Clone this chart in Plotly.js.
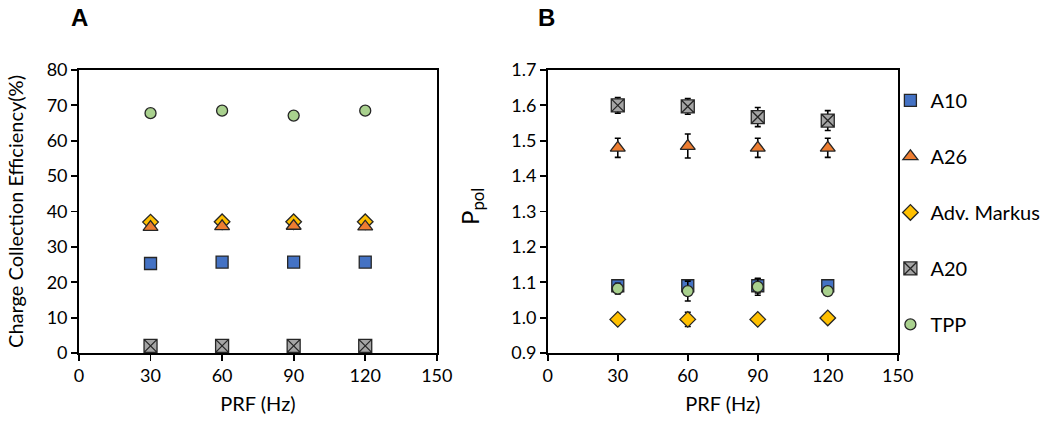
<!DOCTYPE html>
<html><head><meta charset="utf-8">
<script src="https://cdn.plot.ly/plotly-3.0.1.min.js"></script>
<style>html,body{margin:0;padding:0;background:#fff}#chart{width:1050px;height:426px}</style>
</head><body><div id="chart"></div>
<script>
var prf = [30, 60, 90, 120];
var seriesNames = ['A10', 'A26', 'Adv. Markus', 'A20', 'TPP'];

// Panel A: Charge Collection Efficiency (%)
var cceA10 = [25.3, 25.7, 25.7, 25.7];
var cceA26 = [35.6, 35.8, 35.9, 35.7];
var cceMarkus = [37.0, 37.1, 37.1, 37.1];
var cceA20 = [2.0, 2.0, 2.0, 2.0];
var cceTPP = [67.8, 68.5, 67.1, 68.5];

// Panel B: P_pol with error bars
var ppolA10 = [1.09, 1.09, 1.09, 1.09];
var errA10 = [0.015, 0.015, 0.02, 0.012];
var ppolA26 = [1.48, 1.485, 1.48, 1.48];
var errA26 = [0.027, 0.034, 0.027, 0.027];
var ppolMarkus = [0.995, 0.995, 0.995, 0.999];
var errMarkus = [0.006, 0.02, 0.006, 0.01];
var ppolA20 = [1.600, 1.597, 1.567, 1.557];
var errA20 = [0.022, 0.022, 0.027, 0.028];
var ppolTPP = [1.082, 1.075, 1.087, 1.075];
var errTPP = [0.015, 0.028, 0.024, 0.012];

var styles = [
  {symbol: 'square', color: '#4472C4', size: 12},
  {symbol: 'triangle-up', color: '#ED7D31', size: 13},
  {symbol: 'diamond', color: '#FFC000', size: 12},
  {symbol: 'square-x', color: '#A5A5A5', size: 13},
  {symbol: 'circle', color: '#A9D18E', size: 11}
];
var lineCol = '#262626';

var aData = [cceA10, cceA26, cceMarkus, cceA20, cceTPP];
var bData = [ppolA10, ppolA26, ppolMarkus, ppolA20, ppolTPP];
var bErr = [errA10, errA26, errMarkus, errA20, errTPP];
var drawOrder = [0, 2, 1, 3, 4];

var traces = [];
drawOrder.forEach(function(i){
  var s = styles[i];
  traces.push({
    x: prf, y: aData[i], type: 'scatter', mode: 'markers', xaxis: 'x', yaxis: 'y',
    name: seriesNames[i], showlegend: false, cliponaxis: false,
    marker: {symbol: s.symbol, color: s.color, size: s.size, line: {color: lineCol, width: 1.3}}
  });
});
[0, 1, 2, 3, 4].forEach(function(i){
  var s = styles[i];
  traces.push({
    x: prf, y: bData[i], type: 'scatter', mode: 'markers', xaxis: 'x2', yaxis: 'y2',
    name: seriesNames[i], legendgroup: 'g' + i, legendrank: i + 1, cliponaxis: false,
    error_y: {type: 'data', array: bErr[i], visible: true, color: '#000', thickness: 1.6, width: 3},
    marker: {symbol: s.symbol, color: s.color, size: s.size, line: {color: lineCol, width: 1.3}}
  });
});

var fam = 'Lato, "Open Sans", sans-serif';
var tickF = {family: fam, size: 18, color: '#000'};
var titleF = {family: fam, size: 20, color: '#000'};
var axCommon = {
  showgrid: false, zeroline: false, showline: true, linecolor: '#000', linewidth: 1.8,
  mirror: true, ticks: 'outside', ticklen: 6, tickwidth: 1.8, tickcolor: '#000',
  tickfont: tickF
};

var layout = {
  width: 1050, height: 426,
  margin: {l: 0, r: 0, t: 0, b: 0},
  paper_bgcolor: '#fff', plot_bgcolor: '#fff',
  font: tickF,
  xaxis: Object.assign({}, axCommon, {domain: [0.0752, 0.416], range: [0, 150], tickvals: [0, 30, 60, 90, 120, 150], anchor: 'y',
    title: {text: 'PRF (Hz)', font: titleF, standoff: 12}}),
  yaxis: Object.assign({}, axCommon, {domain: [0.1714, 0.8357], range: [0, 80], tickvals: [0, 10, 20, 30, 40, 50, 60, 70, 80], anchor: 'x',
    title: {text: 'Charge Collection Efficiency(%)', font: titleF, standoff: 18}}),
  xaxis2: Object.assign({}, axCommon, {domain: [0.5217, 0.855], range: [0, 150], tickvals: [0, 30, 60, 90, 120, 150], anchor: 'y2',
    title: {text: 'PRF (Hz)', font: titleF, standoff: 12}}),
  yaxis2: Object.assign({}, axCommon, {domain: [0.1714, 0.8357], range: [0.9, 1.7], dtick: 0.1, tick0: 0.9, tickformat: '.1f', anchor: 'x2'}),
  legend: {x: 0.848, y: 0.81, xanchor: 'left', yanchor: 'top', tracegroupgap: 27, font: {family: fam, size: 20, color: '#000'},
    itemwidth: 30, bgcolor: 'rgba(0,0,0,0)'},
  annotations: [
    {text: '<b>A</b>', x: 79/1050, y: 1 - 18/426, xanchor: 'center', yanchor: 'middle', xref: 'paper', yref: 'paper', showarrow: false, font: {family: 'Arial, sans-serif', size: 24, color: '#000'}},
    {text: '<b>B</b>', x: 546/1050, y: 1 - 18/426, xanchor: 'center', yanchor: 'middle', xref: 'paper', yref: 'paper', showarrow: false, font: {family: 'Arial, sans-serif', size: 24, color: '#000'}},
    {text: 'P<sub>pol</sub>', textangle: -90, x: 471/1050, y: 1 - 207/426, xanchor: 'center', yanchor: 'middle', xref: 'paper', yref: 'paper', showarrow: false, font: {family: fam, size: 24, color: '#000'}}
  ]
};

Plotly.newPlot('chart', traces, layout, {displayModeBar: false, staticPlot: true});
</script></body></html>
